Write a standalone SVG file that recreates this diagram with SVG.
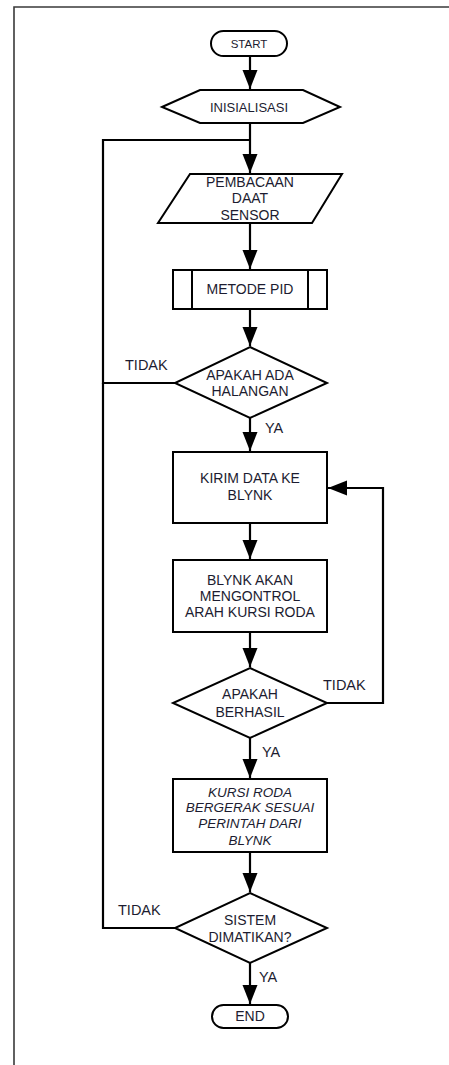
<svg xmlns="http://www.w3.org/2000/svg" width="449" height="1065" viewBox="0 0 449 1065">
<style>
.s{fill:#fff;stroke:#000;stroke-width:2}
.t{font-family:"Liberation Sans",Arial,sans-serif;font-size:14px;fill:#1c1c30;text-anchor:middle}
.i{font-style:italic;font-size:13.5px}
.l{font-family:"Liberation Sans",Arial,sans-serif;font-size:14.5px;fill:#1c1c30}
.c{fill:none;stroke:#000;stroke-width:2.2}
</style>
<defs>
<marker id="ah" markerUnits="userSpaceOnUse" markerWidth="20" markerHeight="16" refX="19" refY="7.5" orient="auto">
<path d="M0,0 L19,7.5 L0,15 z" fill="#000"/>
</marker>
</defs>
<rect x="0" y="0" width="449" height="1065" fill="#fff"/>
<g id="frame"><path d="M14,1065 L14,7 L449,7" fill="none" stroke="#3a3a3a" stroke-width="1.6"/></g>
<g id="connectors">
<path class="c" d="M250,56 L250,89" marker-end="url(#ah)"/>
<path class="c" d="M250,123 L250,173" marker-end="url(#ah)"/>
<path class="c" d="M175,383 L103,383 L103,140 L250,140"/>
<path class="c" d="M175,928 L103,928 L103,383"/>
<path class="c" d="M250,223 L250,269" marker-end="url(#ah)"/>
<path class="c" d="M250,309 L250,346" marker-end="url(#ah)"/>
<path class="c" d="M250,418 L250,451" marker-end="url(#ah)"/>
<path class="c" d="M250,523 L250,559" marker-end="url(#ah)"/>
<path class="c" d="M250,632 L250,667" marker-end="url(#ah)"/>
<path class="c" d="M327,703 L383,703 L383,488 L328,488" marker-end="url(#ah)"/>
<path class="c" d="M250,738 L250,778" marker-end="url(#ah)"/>
<path class="c" d="M250,852 L250,892" marker-end="url(#ah)"/>
<path class="c" d="M250,963 L250,1004" marker-end="url(#ah)"/>
<text class="l" x="125" y="370">TIDAK</text>
<text class="l" x="265" y="433">YA</text>
<text class="l" x="323" y="690">TIDAK</text>
<text class="l" x="262" y="757">YA</text>
<text class="l" x="118" y="915">TIDAK</text>
<text class="l" x="259" y="982">YA</text>
</g>
<g id="start">
<rect class="s" x="211" y="31" width="76" height="25" rx="12.5"/>
<text class="t" x="249" y="48" style="font-size:11.5px">START</text>
</g>
<g id="inisialisasi">
<polygon class="s" points="162,107 200,90 303,90 340,107 303,123 200,123"/>
<text class="t" x="249" y="112" style="font-size:13px">INISIALISASI</text>
</g>
<g id="pembacaan">
<polygon class="s" points="190,174 342,174 312,223 158,223"/>
<text class="t" x="250" y="187">PEMBACAAN</text>
<text class="t" x="250" y="203">DAAT</text>
<text class="t" x="250" y="220">SENSOR</text>
</g>
<g id="metode">
<rect class="s" x="173" y="270" width="154" height="39"/>
<path d="M192,270 L192,309 M308,270 L308,309" stroke="#000" stroke-width="2"/>
<text class="t" x="250" y="294">METODE PID</text>
</g>
<g id="halangan">
<polygon class="s" points="250,347 327,383 250,418 175,383"/>
<text class="t" x="250" y="380">APAKAH ADA</text>
<text class="t" x="250" y="396">HALANGAN</text>
</g>
<g id="kirim">
<rect class="s" x="173" y="452" width="154" height="71"/>
<text class="t" x="250" y="483">KIRIM DATA KE</text>
<text class="t" x="250" y="500">BLYNK</text>
</g>
<g id="blynk">
<rect class="s" x="173" y="560" width="154" height="72"/>
<text class="t" x="250" y="585">BLYNK AKAN</text>
<text class="t" x="250" y="601">MENGONTROL</text>
<text class="t" x="250" y="617">ARAH KURSI RODA</text>
</g>
<g id="berhasil">
<polygon class="s" points="250,668 327,703 250,738 173,703"/>
<text class="t" x="250" y="699">APAKAH</text>
<text class="t" x="250" y="717">BERHASIL</text>
</g>
<g id="kursi">
<rect class="s" x="173" y="779" width="154" height="73"/>
<text class="t i" x="250" y="797">KURSI RODA</text>
<text class="t i" x="250" y="812">BERGERAK SESUAI</text>
<text class="t i" x="250" y="828">PERINTAH DARI</text>
<text class="t i" x="250" y="845">BLYNK</text>
</g>
<g id="sistem">
<polygon class="s" points="250,893 327,928 250,963 175,928"/>
<text class="t" x="250" y="925">SISTEM</text>
<text class="t" x="250" y="942">DIMATIKAN?</text>
</g>
<g id="end">
<rect class="s" x="212" y="1005" width="76" height="23" rx="11.5"/>
<text class="t" x="250" y="1021">END</text>
</g>
</svg>
